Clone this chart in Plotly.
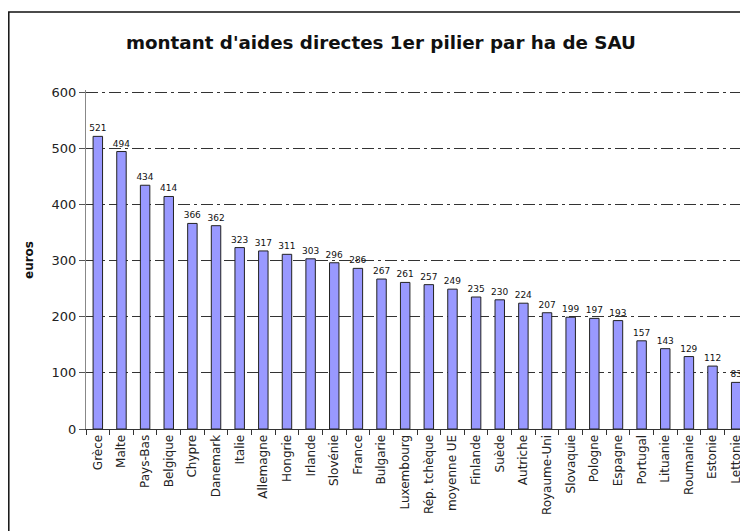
import plotly.graph_objects as go

countries = ["Grèce", "Malte", "Pays-Bas", "Belgique", "Chypre", "Danemark", "Italie",
             "Allemagne", "Hongrie", "Irlande", "Slovénie", "France", "Bulgarie",
             "Luxembourg", "Rép. tchèque", "moyenne UE", "Finlande", "Suède", "Autriche",
             "Royaume-Uni", "Slovaquie", "Pologne", "Espagne", "Portugal", "Lituanie",
             "Roumanie", "Estonie", "Lettonie"]
values = [521, 494, 434, 414, 366, 362, 323, 317, 311, 303, 296, 286, 267, 261, 257,
          249, 235, 230, 224, 207, 199, 197, 193, 157, 143, 129, 112, 83]
y_ticks = [0, 100, 200, 300, 400, 500, 600]

FONT = "DejaVu Sans, Verdana, sans-serif"

# the page body adds an 8px offset; figure sized to fit the 748x531 window
OFF = 8
W, H = 748 - OFF, 531 - OFF
L, R = 86 - OFF, 0
T = 82
B = H - (429 - OFF)
PW = W - L - R
PH = H - T - B
# 0 at page y=429, 600 at page y=92
UNIT = (429 - 92) / 600.0
YMAX = PH / UNIT


def px(xp):
    return (xp - OFF - L) / PW


def py(yp):
    return (H - B - (yp - OFF)) / PH


fig = go.Figure(go.Bar(
    x=countries, y=values,
    marker=dict(color="#9999FF", line=dict(color="#222222", width=1)),
    width=0.4,
    text=values, textposition="outside", cliponaxis=False, constraintext="none",
    textfont=dict(family=FONT, size=9, color="#111111"),
))

fig.update_layout(
    width=W, height=H,
    margin=dict(l=L, r=R, t=T, b=B),
    paper_bgcolor="white", plot_bgcolor="white",
    showlegend=False,
    xaxis=dict(
        type="category", tickangle=-90, tickson="boundaries", automargin=False,
        ticks="outside", ticklen=5, tickcolor="#333333",
        showline=True, linecolor="#333333", linewidth=1,
        showgrid=False,
        tickfont=dict(family=FONT, size=12, color="#222222"),
        range=[-0.5, len(countries) - 0.5],
    ),
    yaxis=dict(
        range=[0, YMAX], tickvals=y_ticks, automargin=False,
        ticks="outside", ticklen=6, tickcolor="#555555",
        showline=True, linecolor="#888888", linewidth=1,
        showgrid=True, gridcolor="#333333", gridwidth=1, griddash="12px,4px,3px,4px",
        zeroline=False,
        tickfont=dict(family=FONT, size=13, color="#222222"),
    ),
)

fig.add_annotation(text="<b>montant d'aides directes 1er pilier par ha de SAU</b>",
                   xref="paper", yref="paper", x=px(381), y=py(42),
                   xanchor="center", yanchor="middle", showarrow=False,
                   font=dict(family=FONT, size=18.3, color="#111111"))

fig.add_annotation(text="<b>euros</b>", xref="paper", yref="paper",
                   x=px(29), y=py(260), textangle=-90,
                   xanchor="center", yanchor="middle", showarrow=False,
                   font=dict(family=FONT, size=12, color="#111111"))

fig.add_shape(type="rect", xref="paper", yref="paper",
              x0=px(8.8), x1=1.05, y0=-0.6, y1=py(12),
              line=dict(color="#111111", width=1.5), fillcolor="rgba(0,0,0,0)",
              layer="below")

fig.write_html("out.html")
